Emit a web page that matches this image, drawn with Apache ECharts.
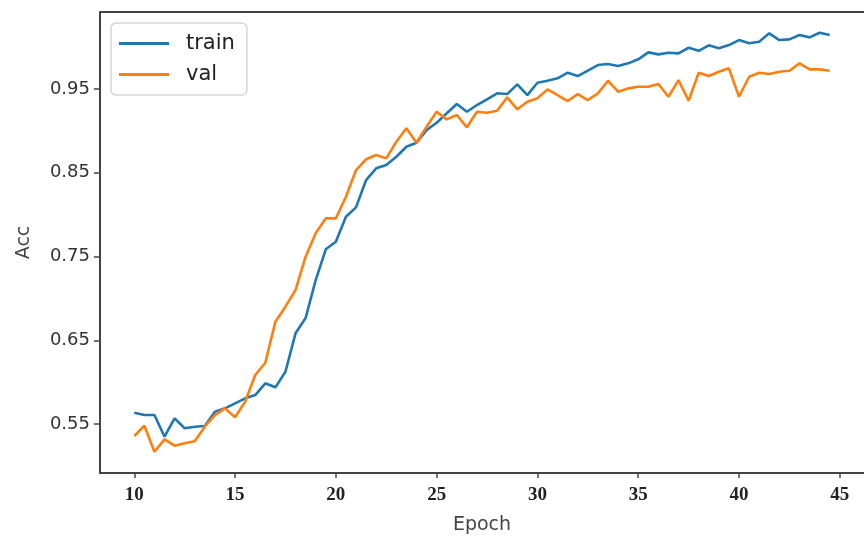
<!DOCTYPE html>
<html>
<head>
<meta charset="utf-8">
<script src="https://cdn.jsdelivr.net/npm/echarts@6/dist/echarts.min.js"></script>
<style>
  html, body { margin: 0; padding: 0; background: #fff; }
  #chart { width: 864px; height: 542px; }
</style>
</head>
<body>
<div id="chart"></div>
<script>
// epochs, half-epoch steps from 10 to 44.5
const epochs = [];
for (let e = 10; e <= 44.5; e += 0.5) epochs.push(e);

const trainAcc = [
  0.5635, 0.5607, 0.5607, 0.5348, 0.5568, 0.5449, 0.5468, 0.5476, 0.5647, 0.5687,
  0.5747, 0.5807, 0.5846, 0.5986, 0.5938, 0.6124, 0.6583, 0.6766, 0.7219, 0.7586,
  0.7677, 0.7975, 0.8087, 0.8413, 0.8553, 0.8593, 0.8692, 0.8811, 0.8859, 0.9010,
  0.9098, 0.9210, 0.9321, 0.9229, 0.9309, 0.9377, 0.9449, 0.9440, 0.9556, 0.9428,
  0.9575, 0.9599, 0.9628, 0.9695, 0.9655, 0.9719, 0.9787, 0.9799, 0.9775, 0.9807,
  0.9855, 0.9938, 0.9914, 0.9933, 0.9926, 0.9993, 0.9957, 1.0022, 0.9986, 1.0025,
  1.0085, 1.0046, 1.0065, 1.0165, 1.0085, 1.0093, 1.0145, 1.0117, 1.0172, 1.0145
];

const valAcc = [
  0.5357, 0.5480, 0.5169, 0.5317, 0.5241, 0.5270, 0.5293, 0.5468, 0.5607, 0.5687,
  0.5580, 0.5766, 0.6085, 0.6232, 0.6722, 0.6901, 0.7100, 0.7498, 0.7777, 0.7956,
  0.7956, 0.8214, 0.8533, 0.8661, 0.8712, 0.8672, 0.8871, 0.9031, 0.8859, 0.9050,
  0.9229, 0.9138, 0.9190, 0.9043, 0.9229, 0.9217, 0.9241, 0.9401, 0.9258, 0.9348,
  0.9389, 0.9496, 0.9428, 0.9357, 0.9440, 0.9369, 0.9449, 0.9599, 0.9468, 0.9508,
  0.9527, 0.9527, 0.9560, 0.9408, 0.9607, 0.9360, 0.9695, 0.9655, 0.9707, 0.9747,
  0.9408, 0.9647, 0.9695, 0.9679, 0.9707, 0.9719, 0.9807, 0.9735, 0.9735, 0.9719
];

const xTicks = [10, 15, 20, 25, 30, 35, 40, 45];
const yTicks = [0.55, 0.65, 0.75, 0.85, 0.95];

const chart = echarts.init(document.getElementById("chart"));

const spine = { color: "#444", width: 2 };

chart.setOption({
  animation: false,
  grid: { left: 100, right: -8, top: 12, bottom: 69 },
  legend: {
    orient: "vertical",
    left: 111,
    top: 23,
    padding: [10, 12, 10, 8],
    itemGap: 10,
    itemWidth: 50,
    itemHeight: 3,
    icon: "rect",
    borderColor: "#d4d4d4",
    borderWidth: 1.5,
    borderRadius: 5,
    backgroundColor: "#fff",
    textStyle: { fontFamily: "DejaVu Sans", fontSize: 21, color: "#222", padding: [0, 0, 0, 12] },
    data: ["train", "val"]
  },
  xAxis: {
    type: "value",
    min: 8.3,
    max: 46.2,
    name: "Epoch",
    nameLocation: "middle",
    nameGap: 43,
    nameTextStyle: { fontFamily: "DejaVu Sans", fontSize: 19, color: "#444" },
    axisLine: { show: true, onZero: false, lineStyle: spine },
    axisTick: { show: true, inside: false, length: 5, lineStyle: { color: "#444", width: 1.5 }, customValues: xTicks },
    axisLabel: {
      customValues: xTicks,
      margin: 13,
      fontFamily: "Liberation Serif",
      fontWeight: "bold",
      fontSize: 19,
      color: "#222"
    },
    splitLine: { show: false }
  },
  yAxis: {
    type: "value",
    min: 0.4915,
    max: 1.042,
    name: "Acc",
    nameLocation: "middle",
    nameGap: 66,
    nameRotate: 90,
    nameTextStyle: { fontFamily: "DejaVu Sans", fontSize: 19, color: "#444" },
    axisLine: { show: true, onZero: false, lineStyle: spine },
    axisTick: { show: true, inside: false, length: 6, lineStyle: { color: "#444", width: 1.5 }, customValues: yTicks },
    axisLabel: {
      customValues: yTicks,
      margin: 10,
      fontFamily: "DejaVu Sans",
      fontSize: 18,
      color: "#333",
      formatter: v => v.toFixed(2)
    },
    splitLine: { show: false }
  },
  series: [
    {
      name: "train",
      type: "line",
      data: epochs.map((e, i) => [e, trainAcc[i]]),
      showSymbol: false,
      symbol: "none",
      lineStyle: { color: "#1f77b4", width: 2.6 },
      itemStyle: { color: "#1f77b4" }
    },
    {
      name: "val",
      type: "line",
      data: epochs.map((e, i) => [e, valAcc[i]]),
      showSymbol: false,
      symbol: "none",
      lineStyle: { color: "#ff7f0e", width: 2.6 },
      itemStyle: { color: "#ff7f0e" }
    }
  ],
  graphic: [
    // top spine of the matplotlib frame
    {
      type: "line",
      shape: { x1: 100, y1: 12, x2: 864, y2: 12 },
      style: { stroke: "#444", lineWidth: 2 },
      z: 10
    }
  ]
});
</script>
</body>
</html>
